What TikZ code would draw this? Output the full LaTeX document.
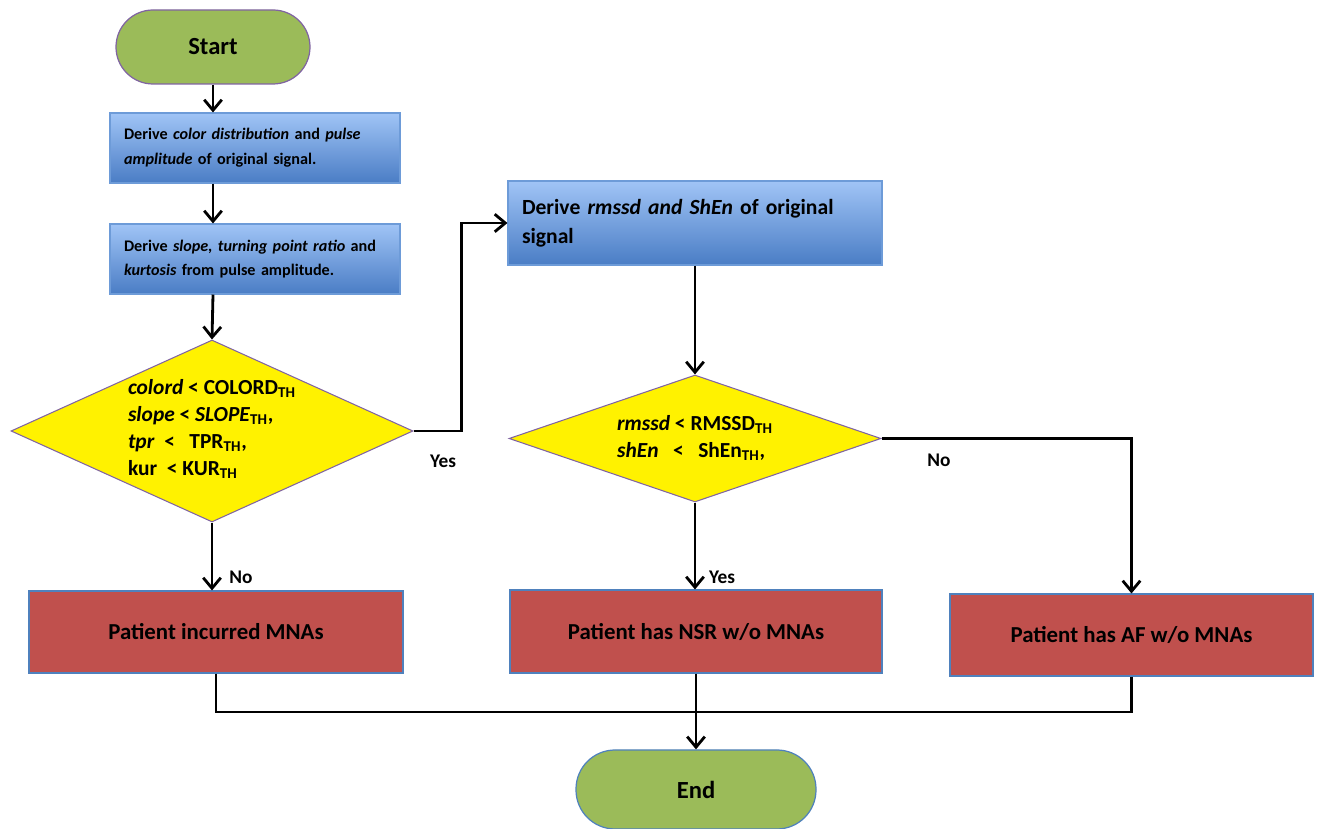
\documentclass[tikz,border=0pt]{standalone}
\usepackage{fontspec}
\setmainfont{Carlito}
\usetikzlibrary{arrows.meta,shapes.geometric,positioning}

\definecolor{termgreen}{HTML}{9BBB59}
\definecolor{termline}{HTML}{8064A2}
\definecolor{boxtop}{HTML}{A0C4F6}
\definecolor{boxbot}{HTML}{4A7DC5}
\definecolor{boxline}{HTML}{6D9BD8}
\definecolor{decline}{HTML}{8064A2}
\definecolor{outred}{HTML}{C0504D}
\definecolor{outline}{HTML}{4F81BD}

\begin{document}
\begin{tikzpicture}[>={Straight Barb[length=6pt,width=10pt]}, line width=1.6pt,
	terminal/.style={rectangle, draw=termline, fill=termgreen, line width=0.7pt, font=\fontsize{14}{17}\selectfont\bfseries},
	process/.style={rectangle, draw=boxline, top color=boxtop, bottom color=boxbot, line width=0.6pt, align=left, inner xsep=0.28cm, font=\fontsize{9.2}{14}\selectfont\bfseries},
	decision/.style={diamond, draw=decline, fill=yellow, line width=0.6pt, inner sep=0pt},
	condtext/.style={align=left, inner sep=0pt, font=\fontsize{12.2}{15.4}\selectfont\bfseries},
	outcome/.style={rectangle, draw=outline, fill=outred, line width=0.6pt, font=\fontsize{13}{16}\selectfont\bfseries},
	lbl/.style={font=\fontsize{11}{13}\selectfont\bfseries}]
	\useasboundingbox (0,0) rectangle (26.4,-16.58);
	\node[terminal, rounded corners=0.74cm, minimum width=3.88cm, minimum height=1.48cm] (start) at (4.26,-0.94) {Start};
	\node[process, text width=5.24cm, minimum height=1.4cm] (b1) at (5.10,-2.96) {Derive \textit{color distribution} and \textit{pulse}\\ \textit{amplitude} of original signal.};
	\node[process, text width=5.24cm, minimum height=1.4cm] (b2) at (5.10,-5.18) {Derive \textit{slope, turning point ratio} and\\ \textit{kurtosis} from pulse amplitude.};
	\node[decision, minimum width=8.04cm, minimum height=3.64cm] (d1) at (4.24,-8.62) {};
	\node[condtext] (d1t) at (4.24,-8.58) {\textit{colord} < COLORD\textsubscript{TH}\\ \textit{slope} < \textit{SLOPE}\textsubscript{TH},\\ \textit{tpr}~~<~~~TPR\textsubscript{TH},\\ kur~~< KUR\textsubscript{TH}};
	\node[process, text width=6.92cm, minimum height=1.68cm, font=\fontsize{12.3}{16.5}\selectfont\bfseries] (b3) at (13.90,-4.46) {Derive \textit{rmssd and ShEn} of original\\ signal};
	\node[decision, minimum width=7.44cm, minimum height=2.54cm] (d2) at (13.90,-8.77) {};
	\node[condtext] (d2t) at (13.90,-8.76) {\textit{rmssd} < RMSSD\textsubscript{TH}\\ \textit{shEn}~~~<~~~ShEn\textsubscript{TH},};
	\node[outcome, minimum width=7.48cm, minimum height=1.64cm] (r1) at (4.32,-12.64) {Patient incurred MNAs};
	\node[outcome, minimum width=7.44cm, minimum height=1.66cm] (r2) at (13.92,-12.63) {Patient has NSR w/o MNAs};
	\node[outcome, minimum width=7.26cm, minimum height=1.64cm] (r3) at (22.63,-12.70) {Patient has AF w/o MNAs};
	\node[terminal, draw=outline, rounded corners=0.78cm, minimum width=4.8cm, minimum height=1.58cm] (end) at (13.92,-15.79) {End};
	\node[lbl] (yes1) at (8.86,-9.22) {Yes};
	\node[lbl] (no2) at (18.78,-9.20) {No};
	\node[lbl] (no1) at (4.82,-11.54) {No};
	\node[lbl] (yes2) at (14.44,-11.54) {Yes};
	\coordinate (merge) at (13.92,-14.24);
	\draw[->] (start.south) -- (start.south |- b1.north);
	\draw[->] (start.south |- b1.south) -- (start.south |- b2.north);
	\draw[->] (start.south |- b2.south) -- (d1.north);
	\draw[->] (d1.east) -- ++(0.96,0) |- (b3.west);
	\draw[->] (b3.south -| d2.north) -- (d2.north);
	\draw[->] (d1.south) -- (d1.south |- r1.north);
	\draw[->] (d2.south) -- (d2.south |- r2.north);
	\draw[->] (d2.east) -| (r3.north);
	\draw (r1.south) |- (merge);
	\draw (r3.south) |- (merge);
	\draw[->] (r2.south) -- (end.north);
\end{tikzpicture}
\end{document}
